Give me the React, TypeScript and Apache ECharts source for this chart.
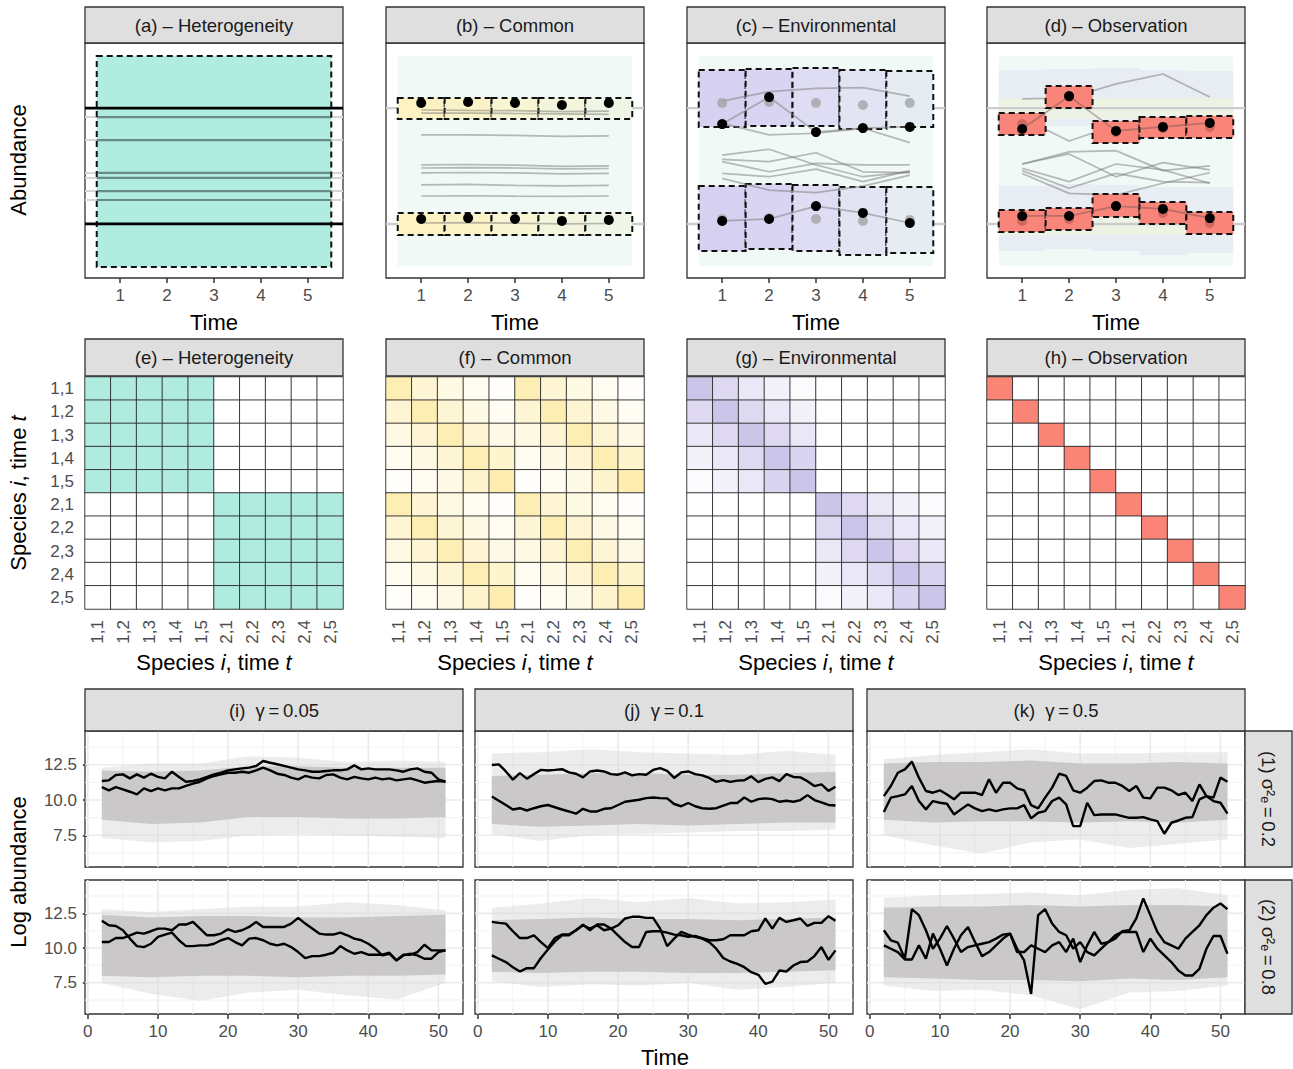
import React, { useEffect, useRef } from "react";
import * as echarts from "echarts";

const FONT = "'Liberation Sans', Arial, Helvetica, sans-serif";

// ================= Top row (a)-(d) =================
const timesTop = [1, 2, 3, 4, 5];
const meanLevels = [7.23, 2.3];
const hetOtherLevels = [6.85, 5.87, 4.47, 4.26, 3.7, 3.32];
const hetBox = [0.5, 5.5, 0.47, 9.45];
const bgBox = [0.5, 5.5, 0.51, 9.45];

const commonBandTop = [6.77, 7.66];
const commonBandBottom = [1.83, 2.77];
const commonFills = ["#fdf2c2", "#fbf3c8", "#f8f5d3", "#f3f6dd", "#eff6e5"];
const commonDotsTop = [7.45, 7.49, 7.45, 7.36, 7.45];
const commonDotsBottom = [2.51, 2.55, 2.51, 2.43, 2.47];
const commonGrayLines = [
  [7.15, 7.13, 7.12, 7.08, 7.1],
  [7.02, 7.02, 7.0, 6.98, 6.96],
  [6.09, 6.09, 6.07, 6.03, 6.05],
  [4.81, 4.83, 4.8, 4.75, 4.77],
  [4.68, 4.7, 4.68, 4.64, 4.66],
  [4.47, 4.49, 4.47, 4.43, 4.45],
  [3.96, 3.98, 3.94, 3.92, 3.94],
  [3.49, 3.5, 3.48, 3.47, 3.49],
  [2.34, 2.36, 2.33, 2.3, 2.32],
];

const envBoxTopHi = [8.85, 8.89, 8.94, 8.85, 8.81];
const envBoxTopLo = [6.43, 6.47, 6.47, 6.34, 6.43];
const envBoxBotHi = [3.91, 4.0, 3.96, 3.87, 3.87];
const envBoxBotLo = [1.15, 1.23, 1.15, 0.98, 1.06];
const envFills = ["#d6d1f0", "#d8d4f1", "#dfddf3", "#e3e4f3", "#e6edf2"];
const envDotsTop = [6.55, 7.7, 6.21, 6.38, 6.43];
const envDotsBottom = [2.43, 2.51, 3.06, 2.77, 2.34];
const envGrayLines = [
  [7.53, 7.93, 8.07, 8.1, 7.74],
  [6.58, 6.09, 6.16, 6.37, 5.76],
  [5.23, 5.48, 4.81, 4.31, 4.52],
  [5.05, 4.95, 5.33, 4.52, 4.48],
  [4.95, 4.52, 4.88, 4.81, 4.81],
  [4.45, 4.31, 4.63, 4.1, 4.57],
  [4.24, 3.74, 3.63, 3.91, 4.38],
];

const obsBoxTopHi = [7.02, 8.17, 6.68, 6.85, 6.89];
const obsBoxTopLo = [6.09, 7.23, 5.74, 5.96, 5.96];
const obsBoxBotHi = [2.89, 2.98, 3.57, 3.23, 2.81];
const obsBoxBotLo = [1.96, 2.04, 2.6, 2.3, 1.87];
const obsDotsTop = [6.34, 7.74, 6.26, 6.43, 6.6];
const obsDotsBottom = [2.64, 2.64, 3.06, 2.94, 2.55];
const obsGrayLines = [
  [7.62, 7.66, 8.26, 8.68, 7.7],
  [6.81, 5.83, 6.51, 6.21, 6.09],
  [4.85, 5.37, 5.42, 4.57, 4.77],
  [4.85, 5.28, 4.31, 4.91, 4.6],
  [4.67, 4.1, 4.85, 4.6, 4.03],
  [4.57, 3.82, 4.45, 4.1, 4.06],
  [4.45, 3.6, 3.53, 4.03, 4.48],
];

const topTitles = ["(a) – Heterogeneity", "(b) – Common", "(c) – Environmental", "(d) – Observation"];
const midTitles = ["(e) – Heterogeneity", "(f) – Common", "(g) – Environmental", "(h) – Observation"];

// ================= Middle row (e)-(h) =================
const hmLabels = ["1,1", "1,2", "1,3", "1,4", "1,5", "2,1", "2,2", "2,3", "2,4", "2,5"];
const hmSpecies = [1, 1, 1, 1, 1, 2, 2, 2, 2, 2];
const hmTime = [1, 2, 3, 4, 5, 1, 2, 3, 4, 5];
const commonCorr = [
  [0.95, 0.55, 0.35, 0.18, 0.05],
  [0.55, 0.95, 0.55, 0.33, 0.15],
  [0.35, 0.55, 0.95, 0.55, 0.32],
  [0.18, 0.33, 0.55, 0.95, 0.62],
  [0.05, 0.15, 0.32, 0.62, 1.0],
];
const envCorr = [
  [1.0, 0.65, 0.42, 0.24, 0.08],
  [0.65, 1.0, 0.65, 0.42, 0.24],
  [0.42, 0.65, 1.0, 0.65, 0.42],
  [0.24, 0.42, 0.65, 1.0, 0.75],
  [0.08, 0.24, 0.42, 0.75, 1.0],
];

// ================= Bottom row (i)-(k) =================
const timeSteps = [2, 3, 4, 5, 6, 7, 8, 9, 10, 11, 12, 13, 14, 15, 16, 17, 18, 19, 20, 21, 22, 23, 24, 25, 26,
  27, 28, 29, 30, 31, 32, 33, 34, 35, 36, 37, 38, 39, 40, 41, 42, 43, 44, 45, 46, 47, 48, 49, 50, 51];
const xMajor = [0, 10, 20, 30, 40, 50];
const xMinor = [5, 15, 25, 35, 45];
const yMajor = [7.5, 10, 12.5];
const yMinor = [6.25, 8.75, 11.25, 13.75];
const colTitles = ["(i)  γ\u2009=\u20090.05", "(j)  γ\u2009=\u20090.1", "(k)  γ\u2009=\u20090.5"];
const rowTitles = ["(1) σ²ₑ\u2009=\u20090.2", "(2) σ²ₑ\u2009=\u20090.8"];

const bandTimes = [2, 9, 16, 23, 30, 37, 44, 51];
const i1CoreUp = [12.1, 12.0, 12.1, 12.4, 12.4, 12.3, 12.3, 12.3];
const i1CoreLo = [8.6, 8.3, 8.4, 8.8, 8.8, 8.7, 8.7, 8.8];
const i1OutUp = [12.3, 12.6, 12.6, 13.1, 13.0, 12.7, 12.8, 12.7];
const i1OutLo = [7.3, 7.0, 7.1, 7.5, 7.6, 7.5, 7.4, 7.3];
const j1CoreUp = [11.7, 11.8, 11.9, 11.9, 11.8, 11.8, 11.9, 12.0];
const j1CoreLo = [8.3, 8.1, 8.2, 8.3, 8.2, 8.3, 8.4, 8.4];
const j1OutUp = [13.3, 13.4, 13.6, 13.4, 13.3, 13.2, 13.5, 13.2];
const j1OutLo = [7.6, 7.1, 7.5, 7.6, 7.7, 7.8, 7.8, 7.9];
const k1CoreUp = [12.6, 12.7, 12.7, 12.8, 12.6, 12.6, 12.7, 12.6];
const k1CoreLo = [8.6, 8.4, 8.5, 8.5, 8.4, 8.5, 8.4, 8.6];
const k1OutUp = [12.9, 13.2, 13.4, 13.6, 13.3, 13.3, 13.4, 13.4];
const k1OutLo = [7.5, 6.8, 6.2, 7.0, 7.2, 6.6, 6.9, 7.2];
const i2CoreUp = [12.4, 12.2, 12.3, 12.3, 12.2, 12.2, 12.3, 12.4];
const i2CoreLo = [8.0, 7.9, 8.0, 8.0, 7.9, 8.0, 8.0, 8.1];
const i2OutUp = [12.8, 12.6, 12.8, 13.0, 13.0, 13.3, 13.1, 12.7];
const i2OutLo = [7.5, 6.7, 6.2, 6.8, 7.0, 6.6, 6.3, 7.5];
const j2CoreUp = [12.0, 12.1, 12.2, 12.1, 12.1, 12.0, 12.1, 12.2];
const j2CoreLo = [8.3, 8.2, 8.3, 8.3, 8.2, 8.2, 8.3, 8.4];
const j2OutUp = [12.9, 13.2, 13.6, 13.3, 13.6, 13.2, 13.3, 13.5];
const j2OutLo = [7.6, 7.2, 7.4, 7.3, 7.5, 7.0, 7.2, 7.5];
const k2CoreUp = [12.9, 13.0, 13.0, 13.1, 13.0, 13.1, 13.1, 13.0];
const k2CoreLo = [7.9, 7.8, 7.7, 7.7, 7.6, 7.8, 7.7, 7.9];
const k2OutUp = [13.6, 13.8, 13.9, 14.0, 13.8, 14.2, 14.3, 13.8];
const k2OutLo = [7.3, 6.9, 7.0, 6.6, 5.6, 6.8, 6.9, 7.3];

const i1A = [11.35, 11.4, 11.78, 11.82, 11.54, 11.82, 11.59, 11.87, 11.64, 11.54, 12.01, 11.64, 11.3, 11.35, 11.47, 11.64, 11.82, 11.94, 12.11, 12.18,
  12.25, 12.3, 12.42, 12.77, 12.65, 12.54, 12.42, 12.3, 12.18, 12.11, 12.01, 12.01, 12.06, 12.11, 12.11, 12.18, 12.46, 12.18, 12.25, 12.18,
  12.18, 12.18, 12.11, 12.01, 12.18, 12.25, 12.01, 11.94, 11.47, 11.3];
const i1B = [10.92, 10.69, 10.92, 10.76, 10.59, 10.4, 10.83, 10.64, 10.83, 10.69, 10.83, 10.83, 11.0, 11.16, 11.3, 11.54, 11.71, 11.82, 11.94, 11.94,
  12.01, 11.94, 12.11, 12.3, 12.11, 11.87, 11.78, 11.59, 11.47, 11.71, 11.59, 11.54, 11.78, 11.82, 11.59, 11.47, 11.64, 11.54, 11.47, 11.59,
  11.47, 11.54, 11.4, 11.47, 11.54, 11.4, 11.23, 11.3, 11.35, 11.3];
const j1A = [12.49, 12.53, 12.03, 11.45, 11.91, 11.52, 11.84, 12.14, 12.1, 12.14, 12.19, 11.96, 11.87, 11.61, 12.03, 12.1, 12.03, 11.84, 11.8, 11.96,
  11.75, 11.84, 11.8, 12.14, 12.26, 12.07, 11.57, 11.96, 12.03, 11.84, 11.75, 11.57, 11.29, 11.41, 11.29, 11.38, 11.41, 11.68, 11.27, 11.5,
  11.61, 11.34, 11.84, 11.64, 11.61, 11.34, 10.99, 11.11, 10.65, 10.94];
const j1B = [10.25, 9.95, 9.65, 9.33, 9.42, 9.26, 9.42, 9.56, 9.65, 9.49, 9.33, 9.19, 9.03, 9.38, 9.19, 9.19, 9.38, 9.42, 9.65, 9.88,
  9.95, 10.02, 10.14, 10.18, 10.14, 10.12, 9.72, 9.56, 9.79, 9.56, 9.42, 9.38, 9.42, 9.61, 9.79, 9.79, 10.18, 9.88, 10.07, 10.12,
  10.07, 9.88, 9.95, 9.88, 10.0, 10.35, 10.0, 9.84, 9.65, 9.61];
const k1A = [10.28, 11.0, 11.94, 12.18, 12.73, 11.59, 10.64, 10.52, 10.69, 10.4, 10.05, 10.52, 10.52, 10.52, 10.36, 11.47, 10.52, 11.23, 11.23, 10.83,
  10.69, 9.64, 9.41, 10.17, 10.88, 11.87, 11.71, 10.69, 10.52, 10.88, 11.35, 11.4, 11.23, 11.23, 11.0, 10.64, 11.0, 10.17, 10.12, 10.88,
  10.88, 10.69, 10.36, 10.52, 9.93, 11.11, 10.28, 10.17, 11.59, 11.3];
const k1B = [9.15, 10.17, 10.28, 10.4, 11.0, 9.93, 9.34, 9.93, 9.81, 9.74, 8.98, 9.34, 9.69, 9.41, 9.22, 9.34, 9.22, 9.34, 9.41, 9.41,
  9.64, 8.7, 9.1, 9.22, 9.93, 10.17, 9.69, 8.15, 8.15, 9.81, 8.93, 8.98, 8.98, 8.98, 8.86, 8.74, 8.74, 8.79, 8.63, 8.51,
  7.61, 8.39, 8.55, 8.74, 8.79, 10.05, 10.28, 9.93, 9.81, 9.03];
const i2A = [11.96, 11.64, 11.59, 11.28, 10.68, 10.14, 10.07, 10.31, 10.8, 10.97, 11.11, 10.56, 10.14, 10.14, 10.19, 10.19, 10.31, 10.56, 10.72, 10.43,
  10.19, 10.68, 10.72, 10.56, 10.31, 10.19, 10.31, 10.07, 9.71, 9.28, 9.42, 9.42, 9.52, 9.66, 10.14, 9.83, 9.59, 9.71, 9.52, 9.52,
  9.52, 9.66, 9.11, 9.52, 9.52, 9.71, 10.24, 9.83, 9.83, 9.83];
const i2B = [10.43, 10.43, 10.72, 10.72, 10.92, 11.11, 11.04, 11.21, 11.4, 11.4, 11.28, 11.69, 11.69, 11.88, 11.4, 10.92, 10.92, 11.04, 11.35, 11.16,
  11.28, 11.52, 11.88, 11.52, 11.52, 11.52, 11.52, 11.76, 12.17, 11.76, 11.4, 11.04, 10.97, 10.97, 11.11, 10.92, 10.68, 10.56, 10.31, 9.95,
  9.47, 9.59, 9.11, 9.47, 9.59, 9.47, 9.23, 9.23, 9.71, 9.83];
const j2A = [11.88, 11.81, 11.76, 11.21, 10.72, 10.72, 10.92, 10.43, 10.0, 10.72, 10.97, 10.97, 11.28, 11.69, 11.28, 11.69, 11.69, 11.4, 11.64, 12.13,
  12.25, 12.25, 12.17, 12.17, 11.4, 10.14, 10.68, 11.16, 10.97, 10.8, 10.68, 10.43, 9.95, 9.28, 9.03, 8.86, 8.62, 8.26, 8.07, 7.42,
  7.58, 8.38, 8.31, 8.74, 8.99, 9.03, 9.42, 10.07, 9.15, 9.83];
const j2B = [9.47, 9.23, 8.99, 8.62, 8.31, 8.55, 8.55, 9.28, 9.9, 10.48, 10.92, 10.92, 11.28, 11.64, 11.4, 11.64, 11.28, 11.4, 10.92, 10.43,
  10.07, 10.07, 11.16, 11.21, 11.21, 11.11, 10.97, 10.92, 10.8, 10.87, 10.72, 10.56, 10.56, 10.63, 10.92, 10.92, 10.92, 11.21, 11.28, 12.13,
  11.4, 12.17, 11.88, 12.0, 12.13, 11.59, 11.81, 11.81, 12.29, 11.96];
const k2A = [11.28, 10.56, 10.39, 9.23, 12.8, 12.37, 11.28, 9.95, 10.68, 11.59, 10.68, 9.71, 10.07, 10.19, 10.31, 10.43, 10.68, 10.97, 11.04, 9.95,
  9.11, 6.69, 12.37, 12.8, 11.76, 11.16, 10.92, 9.95, 10.43, 9.71, 9.47, 9.95, 10.43, 10.68, 11.21, 11.28, 12.13, 13.57, 12.37, 11.16,
  10.43, 10.19, 9.95, 10.68, 11.16, 11.64, 12.37, 12.9, 13.21, 12.8];
const k2B = [10.19, 9.95, 9.71, 9.18, 9.18, 10.19, 9.23, 11.04, 9.95, 8.74, 9.95, 10.92, 11.52, 10.43, 9.42, 9.71, 10.19, 10.68, 11.04, 9.71,
  9.71, 10.19, 9.95, 9.71, 10.19, 10.43, 9.71, 10.68, 8.99, 10.19, 11.16, 10.31, 10.43, 10.92, 11.16, 11.16, 11.16, 9.71, 10.68, 9.95,
  9.47, 8.99, 8.38, 8.02, 8.02, 8.5, 9.95, 10.87, 10.87, 9.59];

const bottomPanels = [
  { a: i1A, b: i1B, cu: i1CoreUp, cl: i1CoreLo, ou: i1OutUp, ol: i1OutLo },
  { a: j1A, b: j1B, cu: j1CoreUp, cl: j1CoreLo, ou: j1OutUp, ol: j1OutLo },
  { a: k1A, b: k1B, cu: k1CoreUp, cl: k1CoreLo, ou: k1OutUp, ol: k1OutLo },
  { a: i2A, b: i2B, cu: i2CoreUp, cl: i2CoreLo, ou: i2OutUp, ol: i2OutLo },
  { a: j2A, b: j2B, cu: j2CoreUp, cl: j2CoreLo, ou: j2OutUp, ol: j2OutLo },
  { a: k2A, b: k2B, cu: k2CoreUp, cl: k2CoreLo, ou: k2OutUp, ol: k2OutLo },
];

// ================= layout =================
const TOP_LEFTS = [85, 386, 687, 987];
const TOP_W = 258;
const BOT_LEFTS = [85, 475, 867];
const BOT_W = 378;
const BOT_ROWS = [
  { top: 731, height: 136 },
  { top: 880, height: 134 },
];

function buildOption() {
  const grid: any[] = [];
  const xAxis: any[] = [];
  const yAxis: any[] = [];
  const series: any[] = [];
  const graphic: any[] = [];
  const visualMap: any[] = [];
  let zc = 2;
  const nz = () => zc++;
  const tickLabel = { color: "#4d4d4d", fontSize: 17, fontFamily: FONT };

  const addLine = (gi: number, xs: number[], ys: number[], color: string, width: number) =>
    series.push({
      type: "line", xAxisIndex: gi, yAxisIndex: gi, data: xs.map((x, k) => [x, ys[k]]),
      symbol: "none", silent: true, lineStyle: { color, width }, z: nz(),
    });
  const addDots = (gi: number, xs: number[], ys: number[], color: string, size: number) =>
    series.push({
      type: "scatter", xAxisIndex: gi, yAxisIndex: gi, data: xs.map((x, k) => [x, ys[k]]),
      symbol: "circle", symbolSize: size, itemStyle: { color, opacity: 1 }, silent: true, z: nz(),
    });
  const addRects = (gi: number, list: any[]) =>
    series.push({
      type: "custom", xAxisIndex: gi, yAxisIndex: gi, silent: true, z: nz(),
      data: list.map((r) => [r.x0, r.x1, r.y0, r.y1]),
      encode: { x: [0, 1], y: [2, 3] },
      renderItem: (params: any, api: any) => {
        const r = list[params.dataIndex];
        const a = api.coord([api.value(0), api.value(3)]);
        const b = api.coord([api.value(1), api.value(2)]);
        return {
          type: "rect",
          shape: { x: a[0], y: a[1], width: b[0] - a[0], height: b[1] - a[1] },
          style: {
            fill: r.fill,
            stroke: r.dashed ? "#111111" : "none",
            lineWidth: r.dashed ? 2 : 0,
            lineDash: r.dashed ? [6, 4] : null,
          },
        };
      },
    });
  const boxes = (lo: number[], hi: number[], fills: string[] | string, dashed: boolean) =>
    timesTop.map((t, k) => ({
      x0: t - 0.5, x1: t + 0.5, y0: lo[k], y1: hi[k],
      fill: Array.isArray(fills) ? fills[k] : fills, dashed,
    }));
  const constArr = (v: number) => timesTop.map(() => v);

  const strip = (x: number, y: number, w: number, h: number, text: string, rot = 0) => {
    graphic.push({
      type: "rect", shape: { x, y, width: w, height: h }, z: 100,
      style: { fill: "#e0dfdf", stroke: "#333333", lineWidth: 1.3 },
    });
    graphic.push({
      type: "text", x: x + w / 2, y: y + h / 2, rotation: rot, z: 101,
      style: {
        text, fill: "#1a1a1a", fontSize: 18.5, fontFamily: FONT,
        textAlign: "center", textVerticalAlign: "middle", align: "center", verticalAlign: "middle",
      },
    });
  };
  const title = (x: number, y: number, text: string, rot = 0, size = 22) => {
    const it = { fontStyle: "italic", fontSize: size, fontFamily: FONT, fill: "#000" };
    graphic.push({
      type: "text", x, y, rotation: rot, z: 101,
      style: {
        text, fill: "#000", fontSize: size, fontFamily: FONT,
        textAlign: "center", textVerticalAlign: "middle", align: "center", verticalAlign: "middle",
        rich: { it, n: { fontSize: size, fontFamily: FONT, fill: "#000" } },
      },
    });
  };

  // ---------- top row ----------
  TOP_LEFTS.forEach((L, p) => {
    const gi = grid.length;
    grid.push({ left: L, top: 43, width: TOP_W, height: 235, show: true, borderColor: "#333333", borderWidth: 1.3, backgroundColor: "#ffffff" });
    xAxis.push({
      gridIndex: gi, type: "value", min: 0.25, max: 5.75,
      axisLine: { show: false }, splitLine: { show: false },
      axisTick: { show: true, customValues: timesTop, length: 5, lineStyle: { color: "#333333", width: 1.5 } },
      axisLabel: { ...tickLabel, customValues: timesTop, margin: 9 },
    });
    yAxis.push({ gridIndex: gi, type: "value", min: 0, max: 10, show: false, splitLine: { show: false } });
    strip(L, 7, TOP_W, 36, topTitles[p]);
    title(L + TOP_W / 2, 322, "Time");

    const full = [0.25, 5.75];
    const inner = [hetBox[0], hetBox[1]];
    if (p === 0) {
      hetOtherLevels.forEach((v) => addLine(gi, full, [v, v], "#d6d6d6", 2));
      addRects(gi, [{ x0: hetBox[0], x1: hetBox[1], y0: hetBox[2], y1: hetBox[3], fill: "#b0ece0", dashed: true }]);
      hetOtherLevels.forEach((v) => addLine(gi, inner, [v, v], "rgba(45,60,56,0.55)", 2.2));
      meanLevels.forEach((v) => addLine(gi, full, [v, v], "#000000", 2.7));
      return;
    }
    addRects(gi, [{ x0: bgBox[0], x1: bgBox[1], y0: bgBox[2], y1: bgBox[3], fill: "#f1f9f7", dashed: false }]);
    if (p === 3) {
      addRects(gi, [
        ...boxes(envBoxTopLo, envBoxTopHi, "rgba(205,210,235,0.28)", false),
        ...boxes(envBoxBotLo, envBoxBotHi, "rgba(205,210,235,0.28)", false),
      ]);
    }
    if (p >= 2) {
      addRects(gi, [
        ...boxes(constArr(commonBandTop[0]), constArr(commonBandTop[1]), "rgba(240,245,215,0.55)", false),
        ...boxes(constArr(commonBandBottom[0]), constArr(commonBandBottom[1]), "rgba(240,245,215,0.55)", false),
      ]);
    }
    meanLevels.forEach((v) => addLine(gi, full, [v, v], "#cdcdcd", 2.4));
    if (p === 1) {
      addRects(gi, [
        ...boxes(constArr(commonBandTop[0]), constArr(commonBandTop[1]), commonFills, true),
        ...boxes(constArr(commonBandBottom[0]), constArr(commonBandBottom[1]), commonFills, true),
      ]);
      commonGrayLines.forEach((ys) => addLine(gi, timesTop, ys, "rgba(120,120,120,0.5)", 1.7));
      addDots(gi, timesTop, commonDotsTop, "#000000", 10);
      addDots(gi, timesTop, commonDotsBottom, "#000000", 10);
    } else if (p === 2) {
      addRects(gi, [
        ...boxes(envBoxTopLo, envBoxTopHi, envFills, true),
        ...boxes(envBoxBotLo, envBoxBotHi, envFills, true),
      ]);
      envGrayLines.forEach((ys) => addLine(gi, timesTop, ys, "rgba(120,120,120,0.5)", 1.7));
      addLine(gi, timesTop, envDotsTop, "rgba(120,120,120,0.5)", 1.7);
      addLine(gi, timesTop, envDotsBottom, "rgba(120,120,120,0.5)", 1.7);
      addDots(gi, timesTop, commonDotsTop, "rgba(160,160,160,0.75)", 10);
      addDots(gi, timesTop, commonDotsBottom, "rgba(160,160,160,0.75)", 10);
      addDots(gi, timesTop, envDotsTop, "#000000", 10);
      addDots(gi, timesTop, envDotsBottom, "#000000", 10);
    } else {
      obsGrayLines.forEach((ys) => addLine(gi, timesTop, ys, "rgba(120,120,120,0.5)", 1.7));
      addRects(gi, [
        ...boxes(obsBoxTopLo, obsBoxTopHi, "#f9857a", true),
        ...boxes(obsBoxBotLo, obsBoxBotHi, "#f9857a", true),
      ]);
      addLine(gi, timesTop, obsDotsTop, "rgba(110,80,80,0.45)", 1.7);
      addLine(gi, timesTop, obsDotsBottom, "rgba(110,80,80,0.45)", 1.7);
      addDots(gi, timesTop, envDotsTop, "rgba(150,70,65,0.45)", 10);
      addDots(gi, timesTop, envDotsBottom, "rgba(150,70,65,0.45)", 10);
      addDots(gi, timesTop, obsDotsTop, "#000000", 10);
      addDots(gi, timesTop, obsDotsBottom, "#000000", 10);
    }
  });
  title(18, 160, "Abundance", Math.PI / 2);

  // ---------- middle row (heatmaps) ----------
  const hmColors = ["#afebde", "#fdedb0", "#ccc5ea", "#fa8576"];
  TOP_LEFTS.forEach((L, p) => {
    const gi = grid.length;
    grid.push({ left: L, top: 377, width: TOP_W, height: 232, show: false });
    xAxis.push({
      gridIndex: gi, type: "category", data: hmLabels,
      axisLine: { show: false }, axisTick: { show: false }, splitLine: { show: false },
      axisLabel: { ...tickLabel, rotate: 90, margin: 11, interval: 0 },
    });
    yAxis.push({
      gridIndex: gi, type: "category", data: hmLabels, inverse: true,
      axisLine: { show: false }, axisTick: { show: false }, splitLine: { show: false },
      axisLabel: { ...tickLabel, show: p === 0, margin: 11, interval: 0 },
    });
    strip(L, 339, TOP_W, 37, midTitles[p]);
    title(L + TOP_W / 2, 662, "Species {it|i}, time {it|t}");

    const data: number[][] = [];
    hmLabels.forEach((_, r) => {
      hmLabels.forEach((__, c) => {
        let v = 0;
        const same = hmSpecies[r] === hmSpecies[c];
        if (p === 0) v = same ? 1 : 0;
        else if (p === 1) v = commonCorr[hmTime[r] - 1][hmTime[c] - 1];
        else if (p === 2) v = same ? envCorr[hmTime[r] - 1][hmTime[c] - 1] : 0;
        else v = r === c ? 1 : 0;
        data.push([c, r, v]);
      });
    });
    const si = series.length;
    series.push({
      type: "heatmap", xAxisIndex: gi, yAxisIndex: gi, data, silent: true, z: nz(),
      itemStyle: { borderColor: "#2a2a2a", borderWidth: 0.9 },
    });
    visualMap.push({
      show: false, type: "continuous", seriesIndex: si, dimension: 2, min: 0, max: 1,
      inRange: { color: ["#ffffff", hmColors[p]] },
    });
  });
  title(18, 493, "Species {it|i}, time {it|t}", Math.PI / 2);

  // ---------- bottom row ----------
  BOT_ROWS.forEach((row, ri) => {
    BOT_LEFTS.forEach((L, ci) => {
      const gi = grid.length;
      const P = bottomPanels[ri * 3 + ci];
      grid.push({ left: L, top: row.top, width: BOT_W, height: row.height, show: true, borderColor: "#333333", borderWidth: 1.3, backgroundColor: "#ffffff" });
      xAxis.push({
        gridIndex: gi, type: "value", min: -0.4, max: 53.5,
        axisLine: { show: false }, splitLine: { show: false },
        axisTick: { show: ri === 1, customValues: xMajor, length: 5, lineStyle: { color: "#333333", width: 1.5 } },
        axisLabel: { ...tickLabel, show: ri === 1, customValues: xMajor, margin: 9 },
      });
      yAxis.push({
        gridIndex: gi, type: "value", min: 5.25, max: 14.9,
        axisLine: { show: false }, splitLine: { show: false },
        axisTick: { show: ci === 0, customValues: yMajor, length: 5, lineStyle: { color: "#333333", width: 1.5 } },
        axisLabel: { ...tickLabel, show: ci === 0, customValues: yMajor, margin: 8, formatter: (v: number) => v.toFixed(1) },
      });
      // grid lines
      const gl = [
        ...xMinor.map((v) => ({ ax: "x", v, major: false })),
        ...yMinor.map((v) => ({ ax: "y", v, major: false })),
        ...xMajor.map((v) => ({ ax: "x", v, major: true })),
        ...yMajor.map((v) => ({ ax: "y", v, major: true })),
      ];
      series.push({
        type: "custom", xAxisIndex: gi, yAxisIndex: gi, silent: true, z: nz(),
        data: gl.map((g) => (g.ax === "x" ? [g.v, 10] : [25, g.v])),
        renderItem: (params: any, api: any) => {
          const g = gl[params.dataIndex];
          const cs = params.coordSys;
          const pt = api.coord([api.value(0), api.value(1)]);
          const style = { stroke: g.major ? "#ebebeb" : "#f4f4f4", lineWidth: g.major ? 1.6 : 1.1 };
          if (g.ax === "x") return { type: "line", shape: { x1: pt[0], y1: cs.y, x2: pt[0], y2: cs.y + cs.height }, style };
          return { type: "line", shape: { x1: cs.x, y1: pt[1], x2: cs.x + cs.width, y2: pt[1] }, style };
        },
      });
      // bands
      const band = (up: number[], lo: number[], fill: string) =>
        series.push({
          type: "custom", xAxisIndex: gi, yAxisIndex: gi, silent: true, z: nz(),
          data: [[bandTimes[0], up[0]]],
          renderItem: (params: any, api: any) => {
            const pts: number[][] = [];
            bandTimes.forEach((t, k) => pts.push(api.coord([t, up[k]])));
            for (let k = bandTimes.length - 1; k >= 0; k--) pts.push(api.coord([bandTimes[k], lo[k]]));
            return { type: "polygon", shape: { points: pts }, style: { fill } };
          },
        });
      band(P.ou, P.ol, "rgba(218,218,218,0.5)");
      band(P.cu, P.cl, "#cac8c8");
      addLine(gi, timeSteps, P.a, "#000000", 2.4);
      addLine(gi, timeSteps, P.b, "#000000", 2.4);

      if (ri === 0) strip(L, 689, BOT_W, 42, colTitles[ci]);
      if (ci === 2) strip(1245, row.top, 47, row.height, rowTitles[ri], -Math.PI / 2);
    });
  });
  title(18, 872, "Log abundance", Math.PI / 2);
  title(665, 1057, "Time");

  return {
    animation: false,
    backgroundColor: "#ffffff",
    textStyle: { fontFamily: FONT },
    grid, xAxis, yAxis, series, visualMap, graphic,
  };
}

export default function App() {
  const ref = useRef<HTMLDivElement>(null);
  useEffect(() => {
    const chart = echarts.init(ref.current!, null, { renderer: "svg" });
    chart.setOption(buildOption() as any);
    return () => chart.dispose();
  }, []);
  return (
    <div
      ref={ref}
      style={{ position: "fixed", left: 0, top: 0, width: 1293, height: 1069, background: "#ffffff" }}
    />
  );
}
